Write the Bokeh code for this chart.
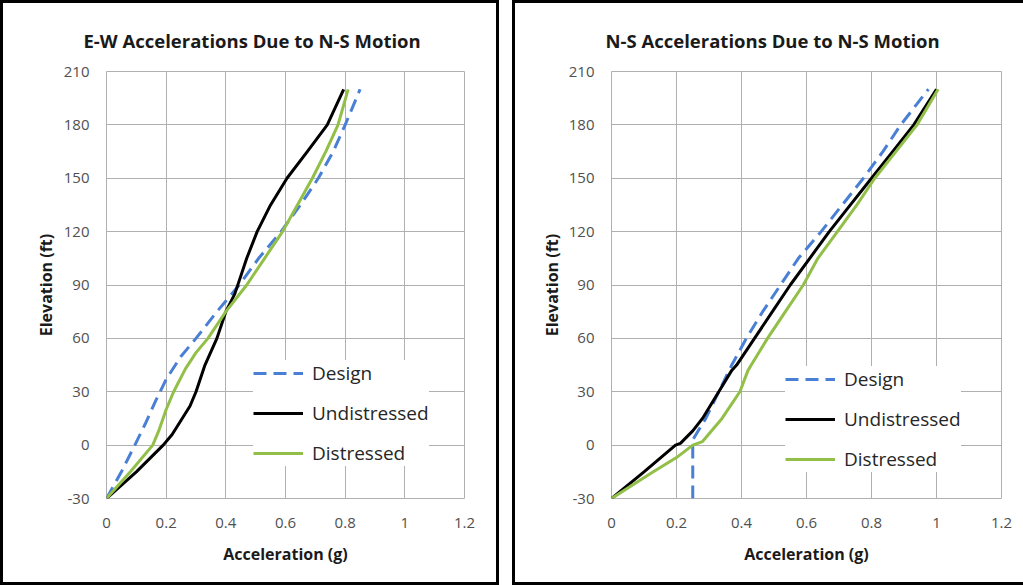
from bokeh.plotting import figure
from bokeh.layouts import row
from bokeh.models import (Range1d, FixedTicker, Legend, LegendItem, CustomJSTickFormatter,
                          InlineStyleSheet)
from bokeh.embed import file_html
from bokeh.resources import INLINE

# ---- data ----
x_ticks = [0, 0.2, 0.4, 0.6, 0.8, 1, 1.2]
y_ticks = [-30, 0, 30, 60, 90, 120, 150, 180, 210]

ew_design_acc = [0.0, 0.05, 0.095, 0.13, 0.165, 0.20, 0.25, 0.30, 0.37, 0.445, 0.51, 0.585, 0.65, 0.71, 0.76, 0.80, 0.85]
ew_design_elev = [-30, -15, 0, 12, 25, 37, 50, 60, 75, 90, 105, 120, 135, 150, 165, 180, 200]
ew_undist_acc = [0.0, 0.10, 0.19, 0.22, 0.25, 0.28, 0.30, 0.33, 0.37, 0.40, 0.43, 0.45, 0.47, 0.505, 0.55, 0.605, 0.673, 0.74, 0.795]
ew_undist_elev = [-30, -15, 0, 6, 14, 22, 30, 45, 60, 75, 85, 95, 105, 120, 135, 150, 165, 180, 200]
ew_dist_acc = [0.0, 0.08, 0.155, 0.175, 0.20, 0.225, 0.265, 0.30, 0.34, 0.40, 0.47, 0.53, 0.59, 0.64, 0.69, 0.735, 0.776, 0.81]
ew_dist_elev = [-30, -15, 0, 8, 20, 30, 43, 52, 60, 75, 90, 105, 120, 135, 150, 165, 180, 200]

ns_design_acc = [0.25, 0.25, 0.29, 0.33, 0.37, 0.415, 0.465, 0.52, 0.575, 0.645, 0.71, 0.775, 0.835, 0.89, 0.975]
ns_design_elev = [-30, 3, 15, 30, 45, 60, 75, 90, 105, 120, 135, 150, 165, 180, 200]
ns_undist_acc = [0.0, 0.10, 0.197, 0.212, 0.25, 0.28, 0.33, 0.37, 0.385, 0.44, 0.495, 0.55, 0.61, 0.67, 0.735, 0.80, 0.865, 0.93, 1.0]
ns_undist_elev = [-30, -15, 0, 1, 8, 15, 30, 42, 45, 60, 75, 90, 105, 120, 135, 150, 165, 180, 200]
ns_dist_acc = [0.0, 0.12, 0.20, 0.25, 0.28, 0.34, 0.395, 0.42, 0.43, 0.48, 0.535, 0.59, 0.635, 0.695, 0.755, 0.81, 0.875, 0.94, 1.005]
ns_dist_elev = [-30, -16, -7, 0, 2, 15, 30, 42, 45, 60, 75, 90, 105, 120, 135, 150, 165, 180, 200]

FONT = "Open Sans"
BLUE = "#4a7fd6"
BLACK = "#000000"
GREEN = "#92bf48"
GRID = "#b0b0b0"
H = 585


def make(title, series, w, bl, br, bt, bb, leg_loc, title_offset, ylab_standoff, box_css):
    p = figure(width=w, height=H, output_backend="svg", toolbar_location=None,
               x_range=Range1d(0, 1.2), y_range=Range1d(-30, 210),
               min_border_left=bl, min_border_right=br, min_border_top=bt, min_border_bottom=bb,
               title=title)
    p.background_fill_color = "white"
    p.border_fill_color = "white"
    p.outline_line_color = GRID
    p.outline_line_width = 1
    p.stylesheets = [InlineStyleSheet(css=(
        ":host { position: relative; }"
        ":host::after { content: ''; position: absolute; " + box_css +
        " box-sizing: border-box; pointer-events: none; z-index: 1000; }"))]

    p.title.text_font = FONT
    p.title.text_font_style = "bold"
    p.title.text_font_size = "18.5px"
    p.title.text_color = "#1a1a1a"
    p.title.align = "left"
    p.title.vertical_align = "bottom"
    p.title.offset = title_offset
    p.title.standoff = 38

    fmt = CustomJSTickFormatter(code="return String(Math.round(tick*10)/10);")
    p.xaxis.ticker = FixedTicker(ticks=x_ticks)
    p.yaxis.ticker = FixedTicker(ticks=y_ticks)
    p.xaxis.formatter = fmt
    p.yaxis.formatter = fmt
    for ax in (p.xaxis[0], p.yaxis[0]):
        ax.axis_line_color = None
        ax.major_tick_line_color = None
        ax.minor_tick_line_color = None
        ax.major_tick_out = 0
        ax.major_tick_in = 0
        ax.major_label_text_font = FONT
        ax.major_label_text_font_size = "15px"
        ax.major_label_text_color = "#505050"
        ax.axis_label_text_font = FONT
        ax.axis_label_text_font_size = "16px"
        ax.axis_label_text_font_style = "bold"
        ax.axis_label_text_color = "#1a1a1a"
    p.xaxis.axis_label = "Acceleration (g)"
    p.yaxis.axis_label = "Elevation (ft)"
    p.xaxis.major_label_standoff = 19
    p.yaxis.major_label_standoff = 17
    p.xaxis.axis_label_standoff = 12
    p.yaxis.axis_label_standoff = ylab_standoff

    p.xgrid.grid_line_color = GRID
    p.ygrid.grid_line_color = GRID
    p.xgrid.ticker = FixedTicker(ticks=x_ticks)
    p.ygrid.ticker = FixedTicker(ticks=y_ticks)

    (dx, dy), (ux, uy), (gx, gy) = series
    r1 = p.line(dx, dy, line_color=BLUE, line_width=3, line_dash="13 7")
    r2 = p.line(ux, uy, line_color=BLACK, line_width=3)
    r3 = p.line(gx, gy, line_color=GREEN, line_width=3)

    leg = Legend(items=[LegendItem(label="Design", renderers=[r1]),
                        LegendItem(label="Undistressed", renderers=[r2]),
                        LegendItem(label="Distressed", renderers=[r3])],
                 location=leg_loc)
    leg.label_text_font = FONT
    leg.label_text_font_size = "19px"
    leg.label_text_color = "#262626"
    leg.glyph_width = 50
    leg.glyph_height = 20
    leg.label_height = 20
    leg.spacing = 14
    leg.padding = 20
    leg.margin = 0
    leg.label_standoff = 9
    leg.background_fill_color = "white"
    leg.background_fill_alpha = 1
    leg.border_line_color = None
    p.add_layout(leg)
    return p


p1 = make("E-W Accelerations Due to N-S Motion",
          [(ew_design_acc, ew_design_elev), (ew_undist_acc, ew_undist_elev), (ew_dist_acc, ew_dist_elev)],
          w=503, bl=106, br=39, bt=70, bb=87, leg_loc=(147, 32), title_offset=-23,
          ylab_standoff=4,
          box_css="left: 0px; top: 0px; right: 4px; bottom: 0px; border: 3px solid black;")
p2 = make("N-S Accelerations Due to N-S Motion",
          [(ns_design_acc, ns_design_elev), (ns_undist_acc, ns_undist_elev), (ns_dist_acc, ns_dist_elev)],
          w=512, bl=100, br=22, bt=71, bb=86, leg_loc=(174, 26), title_offset=-6,
          ylab_standoff=3,
          box_css="left: 1px; top: 0px; right: 0px; bottom: 0px; border: 3px solid black; border-right: none;")

layout = row(p1, p2, spacing=8)
open("out.html", "w").write(file_html(layout, INLINE))
